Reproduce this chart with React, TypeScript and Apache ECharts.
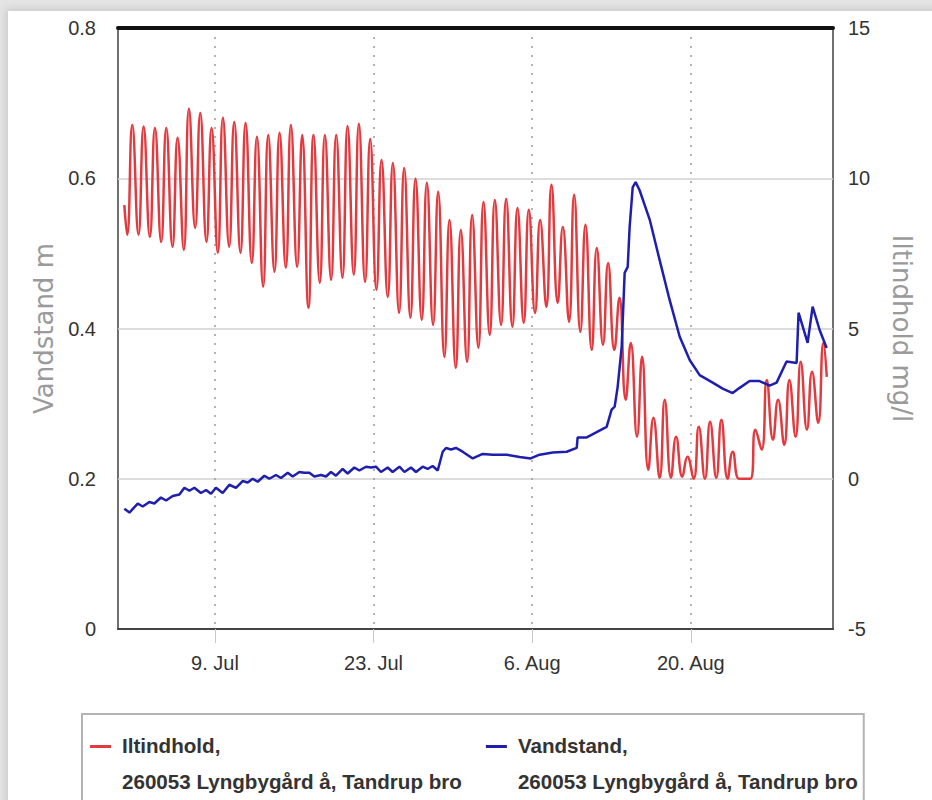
import React, { useEffect, useRef } from "react";
import * as echarts from "echarts";

// ---- x axis (days counted from 9 Jul 00:00) ----
const xTickDays = [0, 14, 28, 42];
const xTickLabels = ["9. Jul", "23. Jul", "6. Aug", "20. Aug"];
const xMin = -8.56;
const xMax = 54.55;

// ---- Iltindhold (mg/l): one night minimum and one afternoon maximum per day, from 1 Jul ----
const oxyStartDay = -8;
const oxyFirst = 9.11;
const oxyLast = 3.39;
const oxyTrough = [
  8.12, 8.12, 8.05, 7.88, 7.72, 7.62, 8.35, 7.88, 7.52, 7.72,
  7.52, 7.18, 6.39, 6.89, 7.02, 7.05, 5.69, 6.52, 6.62, 6.69,
  6.79, 6.55, 6.29, 6.05, 5.52, 5.36, 5.29, 5.12, 4.06, 3.69,
  3.89, 4.36, 4.79, 5.12, 5.06, 5.19, 5.52, 5.72, 5.85, 5.22,
  4.89, 4.29, 4.46, 4.29, 2.63, 1.4, 0.3, 0.03, 0.03, 0.07,
  0, 0, 0.03, 0, 0, 0, 0.97, 1.3, 1.13, 1.4,
  1.63, 1.86,
];
const oxyPeak = [
  11.77, 11.72, 11.67, 11.67, 11.35, 12.31, 12.17, 11.67, 12.01, 11.87,
  11.84, 11.38, 11.44, 11.51, 11.77, 11.44, 11.44, 11.44, 11.44, 11.74,
  11.81, 11.31, 10.61, 10.51, 10.34, 9.98, 9.85, 9.55, 8.61, 8.28,
  8.78, 9.21, 9.28, 9.31, 9.01, 8.95, 8.61, 9.78, 8.38, 9.45,
  8.45, 7.68, 7.18, 6.02, 4.52, 4.06, 2.03, 2.63, 1.4, 0.73,
  1.73, 1.9, 1.96, 0.9, 0, 1.63, 3.29, 2.63, 3.29, 3.89,
  3.56, 4.52,
];

// ---- Vandstand (m) ----
const levelDay = [
  -8.0, -7.55, -6.82, -6.38, -5.79, -5.35, -4.77, -4.32, -3.73, -3.14,
  -2.7, -2.26, -1.82, -1.24, -0.79, -0.35, 0.09, 0.68, 1.27, 1.85,
  2.44, 2.89, 3.33, 3.77, 4.36, 4.8, 5.38, 5.83, 6.42, 6.86,
  7.45, 7.89, 8.33, 8.77, 9.36, 9.8, 10.24, 10.68, 11.27, 11.71,
  12.3, 12.74, 13.33, 13.77, 14.21, 14.65, 15.24, 15.68, 16.28, 16.72,
  17.3, 17.74, 18.33, 18.77, 19.21, 19.66, 20.1, 20.39, 20.83, 21.27,
  21.86, 22.75, 23.63, 24.51, 25.75, 26.89, 27.86, 28.66, 29.81, 31.04,
  31.93, 32.01, 32.81, 33.69, 34.57, 35.01, 35.28, 35.54, 35.9, 36.16,
  36.43, 36.6, 36.87, 37.13, 37.48, 38.37, 39.25, 40.13, 41.02, 41.9,
  42.78, 43.93, 44.81, 45.69, 46.31, 47.19, 48.07, 48.95, 49.57, 50.45,
  51.34, 51.51, 52.31, 52.75, 53.37, 53.99,
];
const levelM = [
  0.16, 0.155, 0.167, 0.163, 0.169, 0.167, 0.175, 0.171, 0.177, 0.179,
  0.188, 0.184, 0.188, 0.181, 0.185, 0.18, 0.188, 0.181, 0.192, 0.188,
  0.197, 0.195, 0.2, 0.196, 0.204, 0.2, 0.205, 0.201, 0.208, 0.203,
  0.209, 0.208, 0.208, 0.203, 0.205, 0.203, 0.209, 0.204, 0.213, 0.207,
  0.215, 0.211, 0.216, 0.215, 0.216, 0.209, 0.215, 0.209, 0.216, 0.209,
  0.215, 0.209, 0.216, 0.213, 0.217, 0.211, 0.236, 0.241, 0.239, 0.241,
  0.236, 0.227, 0.233, 0.232, 0.232, 0.229, 0.227, 0.232, 0.235, 0.236,
  0.241, 0.255, 0.255, 0.262, 0.269, 0.292, 0.296, 0.322, 0.376, 0.474,
  0.482, 0.535, 0.588, 0.595, 0.584, 0.545, 0.491, 0.438, 0.389, 0.358,
  0.338, 0.328, 0.32, 0.314, 0.321, 0.33, 0.33, 0.324, 0.328, 0.356,
  0.354, 0.421, 0.381, 0.429, 0.398, 0.374,
];

const seriesNames = [
  "Iltindhold,\n260053 Lyngbygård å, Tandrup bro",
  "Vandstand,\n260053 Lyngbygård å, Tandrup bro",
];

const NARROW = "'Liberation Sans Narrow', 'Liberation Sans', Arial, sans-serif";
const WIDE = "'DejaVu Sans', Verdana, sans-serif";
const RED = "#e23a3e";
const BLUE = "#1f1fae";

export default function App() {
  const ref = useRef<HTMLDivElement>(null);

  useEffect(() => {
    if (!ref.current) return;
    const chart = echarts.init(ref.current, null, { renderer: "svg" });

    const oxyData: number[][] = [[oxyStartDay, oxyFirst]];
    oxyTrough.forEach((t, i) => {
      oxyData.push([oxyStartDay + i + 0.25, t]);
      oxyData.push([oxyStartDay + i + 0.7, oxyPeak[i]]);
    });
    oxyData.push([oxyStartDay + oxyTrough.length, oxyLast]);

    const levelData = levelDay.map((d, i) => [d, levelM[i]]);

    chart.setOption({
      animation: false,
      grid: {
        left: 118,
        right: 99,
        top: 28,
        bottom: 171,
        show: true,
        borderColor: "#707070",
        borderWidth: 2,
      },
      legend: {
        left: 82,
        top: 714,
        orient: "horizontal",
        data: seriesNames,
        icon: "path://M0,0H21V3H0Z M0,36L0,36",
        itemWidth: 21,
        itemHeight: 36,
        itemGap: 24,
        padding: [13, 6, 14, 8],
        borderColor: "#b4b4b4",
        borderWidth: 2,
        selectedMode: false,
        textStyle: {
          fontFamily: NARROW,
          fontSize: 20.6,
          fontWeight: "bold",
          color: "#333",
          lineHeight: 36,
          padding: [0, 0, 0, 6],
        },
      },
      xAxis: [
        {
          type: "value",
          min: xMin,
          max: xMax,
          position: "bottom",
          axisLine: { show: true, onZero: false, lineStyle: { color: "#444", width: 2 } },
          axisTick: {
            show: true,
            customValues: xTickDays,
            length: 14,
            lineStyle: { color: "#c8c8c8", width: 1 },
          },
          axisLabel: {
            customValues: xTickDays,
            formatter: (v: number) => {
              const k = xTickDays.indexOf(Math.round(v));
              return k >= 0 ? xTickLabels[k] : "";
            },
            fontFamily: NARROW,
            fontSize: 20,
            color: "#333",
            margin: 24,
          },
          splitLine: {
            show: true,
            lineStyle: { color: "#9a9a9a", type: [2, 7], width: 1.5 },
          },
        },
        {
          type: "value",
          min: xMin,
          max: xMax,
          position: "top",
          axisLine: { show: true, onZero: false, lineStyle: { color: "#111", width: 4 } },
          axisTick: { show: false },
          axisLabel: { show: false },
          splitLine: { show: false },
        },
      ],
      yAxis: [
        {
          type: "value",
          min: 0,
          max: 0.8,
          interval: 0.2,
          position: "left",
          name: "Vandstand m",
          nameLocation: "middle",
          nameGap: 48,
          nameRotate: 90,
          nameTextStyle: { fontFamily: WIDE, fontSize: 26, color: "#9a9a9a" },
          axisLine: { show: false },
          axisTick: { show: false },
          axisLabel: {
            fontFamily: NARROW,
            fontSize: 20,
            color: "#333",
            margin: 22,
            formatter: (v: number) => String(+v.toFixed(1)),
          },
          splitLine: { show: true, lineStyle: { color: "#d0d0d0", width: 1.5 } },
        },
        {
          type: "value",
          min: -5,
          max: 15,
          interval: 5,
          position: "right",
          name: "Iltindhold mg/l",
          nameLocation: "middle",
          nameGap: 56,
          nameRotate: -90,
          nameTextStyle: { fontFamily: WIDE, fontSize: 26, color: "#9a9a9a" },
          axisLine: { show: false },
          axisTick: { show: false },
          axisLabel: {
            fontFamily: NARROW,
            fontSize: 20,
            color: "#333",
            margin: 15,
          },
          splitLine: { show: false },
        },
      ],
      series: [
        {
          name: seriesNames[0],
          type: "line",
          xAxisIndex: 0,
          yAxisIndex: 1,
          data: oxyData,
          showSymbol: false,
          smooth: 0.5,
          lineStyle: { color: RED, width: 2.5 },
          itemStyle: { color: RED },
          z: 2,
        },
        {
          name: seriesNames[1],
          type: "line",
          xAxisIndex: 0,
          yAxisIndex: 0,
          data: levelData,
          showSymbol: false,
          lineStyle: { color: BLUE, width: 2.5 },
          itemStyle: { color: BLUE },
          z: 3,
        },
      ],
    });

    return () => chart.dispose();
  }, []);

  return (
    <div
      style={{
        position: "fixed",
        left: 0,
        top: 0,
        width: 932,
        height: 800,
        background: "#e4e4e4",
        overflow: "hidden",
      }}
    >
      <div
        style={{
          position: "absolute",
          left: 8,
          top: 11,
          right: -20,
          bottom: -20,
          background: "#fff",
          boxShadow: "0 0 8px 2px rgba(0,0,0,0.12)",
        }}
      />
      <div
        ref={ref}
        style={{ position: "absolute", left: 0, top: 0, width: 932, height: 800 }}
      />
    </div>
  );
}
